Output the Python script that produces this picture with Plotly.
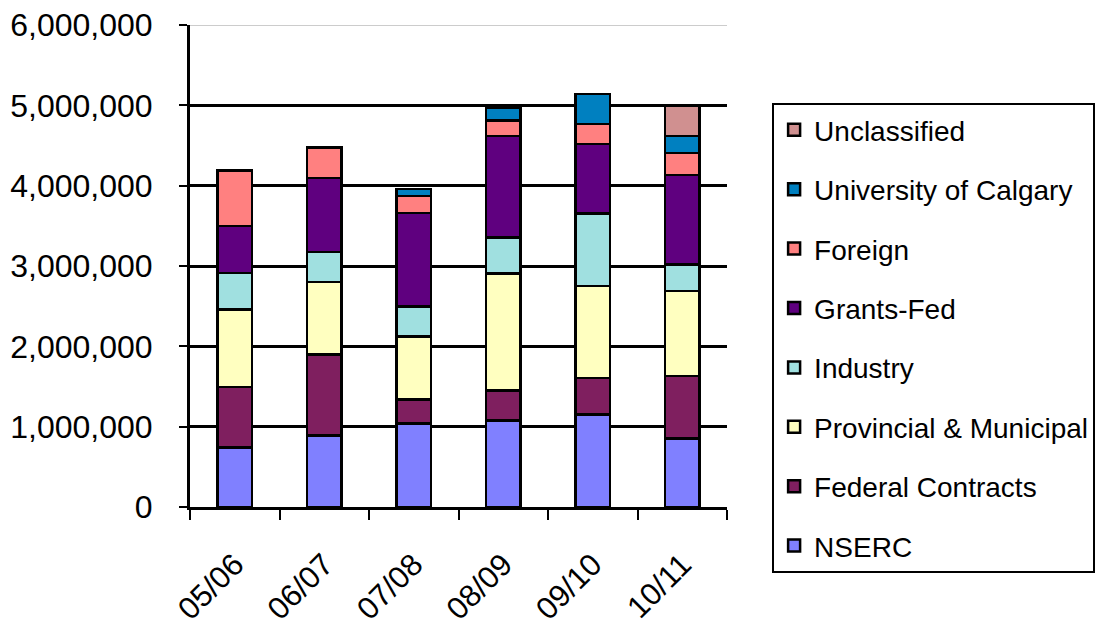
import plotly.graph_objects as go

# Fiscal years on the category axis
years = ["05/06", "06/07", "07/08", "08/09", "09/10", "10/11"]

# Funding by source (dollars), bottom of stack first
nserc = [741000, 890000, 1040000, 1079000, 1150000, 850000]
federal_contracts = [755000, 1010000, 299000, 374000, 456000, 781000]
provincial_municipal = [965000, 898000, 781000, 1455000, 1147000, 1056000]
industry = [449000, 374000, 374000, 449000, 903000, 333000]
grants_fed = [590000, 923000, 1164000, 1263000, 860000, 1113000]
foreign = [686000, 381000, 216000, 190000, 253000, 271000]
university_of_calgary = [0, 0, 87000, 155000, 374000, 216000]
unclassified = [0, 0, 0, 0, 0, 374000]

series = [
    ("NSERC", nserc, "#8080FF"),
    ("Federal Contracts", federal_contracts, "#7F1F5F"),
    ("Provincial & Municipal", provincial_municipal, "#FFFFC0"),
    ("Industry", industry, "#A0E0E0"),
    ("Grants-Fed", grants_fed, "#5F007F"),
    ("Foreign", foreign, "#FF8080"),
    ("University of Calgary", university_of_calgary, "#0080C0"),
    ("Unclassified", unclassified, "#D09090"),
]

y_ticks = [0, 1000000, 2000000, 3000000, 4000000, 5000000, 6000000]
y_ticktext = ["0", "1,000,000", "2,000,000", "3,000,000", "4,000,000", "5,000,000", "6,000,000"]

FONT = "Liberation Sans, Arial, sans-serif"

fig = go.Figure()
n = len(series)
for i, (name, vals, color) in enumerate(series):
    fig.add_trace(go.Bar(
        name=name,
        x=years,
        y=vals,
        width=0.39,
        legendgroup=name,
        legendrank=n - i,  # top of the stack listed first
        marker=dict(color=color, line=dict(color="black", width=2.5)),
    ))

fig.update_layout(
    barmode="stack",
    width=1096,
    height=625,
    margin=dict(l=190, r=369, t=25, b=118, autoexpand=False),
    paper_bgcolor="white",
    plot_bgcolor="white",
    font=dict(family=FONT, color="black"),
    showlegend=True,
    legend=dict(
        x=1.084, y=0.838, xanchor="left", yanchor="top",
        font=dict(family=FONT, size=28, color="black"),
        bordercolor="black", borderwidth=2,
        traceorder="grouped",
        tracegroupgap=20,
        bgcolor="white",
        maxheight=1,
    ),
    xaxis=dict(
        showline=True, linecolor="black", linewidth=3,
        ticks="outside", tickson="boundaries", ticklen=10, tickwidth=2, tickcolor="black",
        tickangle=-45,
        tickfont=dict(family=FONT, size=31, color="black"),
        ticklabelstandoff=24,
        showgrid=False,
    ),
    yaxis=dict(
        range=[0, 6000000],
        tickvals=y_ticks, ticktext=y_ticktext,
        showline=True, linecolor="black", linewidth=3,
        ticks="outside", ticklen=8, tickwidth=2, tickcolor="black",
        tickfont=dict(family=FONT, size=32, color="black"),
        ticklabelstandoff=20,
        showgrid=True, gridcolor="black", gridwidth=2.5,
        zeroline=False,
    ),
    bargap=0.61,
)

# The top boundary of the value range is drawn as a thin grey rule
fig.add_shape(type="line", xref="paper", yref="y", x0=0, x1=1, y0=6000000, y1=6000000,
              line=dict(color="white", width=4), layer="above")
fig.add_shape(type="line", xref="paper", yref="y", x0=0, x1=1, y0=6000000, y1=6000000,
              line=dict(color="#BBBBBB", width=1.5), layer="above")

fig.write_html("out.html")
